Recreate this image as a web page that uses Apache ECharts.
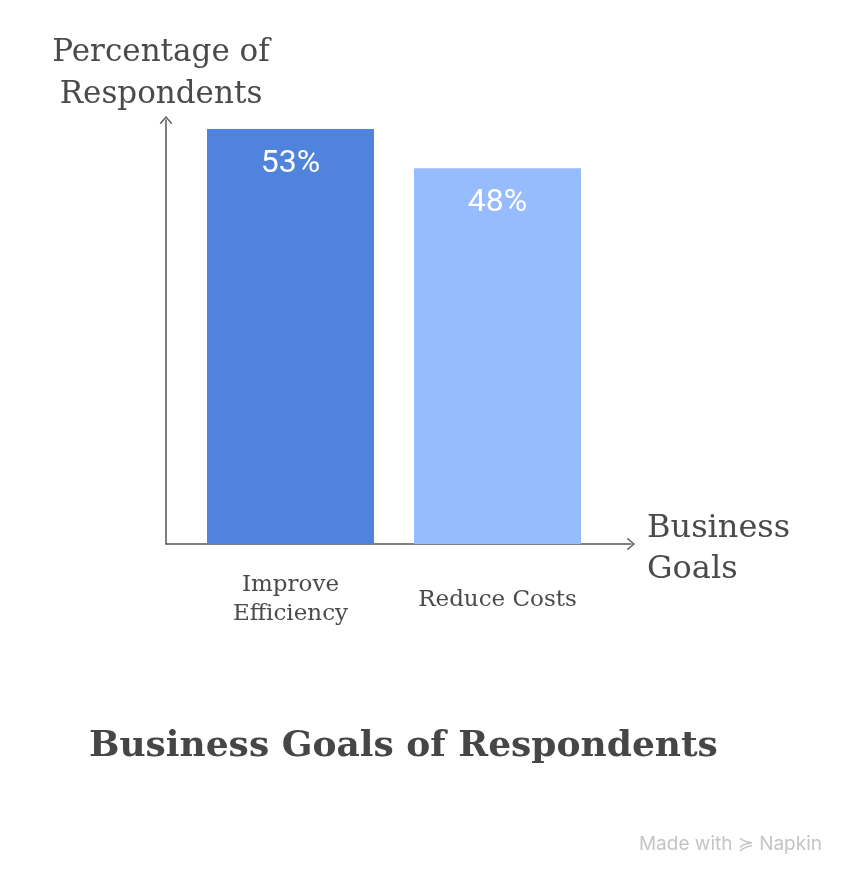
<!DOCTYPE html>
<html>
<head>
<meta charset="utf-8">
<script src="https://cdn.jsdelivr.net/npm/echarts@6/dist/echarts.min.js"></script>
<style>
html,body{margin:0;padding:0;background:#fff;}
#chart{width:850px;height:873px;}
</style>
</head>
<body>
<div id="chart"></div>
<script>
const categories = ['Improve\nEfficiency', 'Reduce Costs'];
const values = [53, 48];
const barColors = ['#5083DB', '#97BCFD'];
const valueLabels = ['53%', '48%'];
const yAxisName = 'Percentage of\nRespondents';
const xAxisNameLines = ['Business', 'Goals'];
const chartTitle = 'Business Goals of Respondents';

const serif = '"DejaVu Serif", serif';
const axisColor = '#555555';
const textColor = '#4a4a4a';
const chevron = 'path://M0,7 L6,0 L12,7 L10.8,7.6 L6,2 L1.2,7.6 Z';

const chart = echarts.init(document.getElementById('chart'), null, {renderer: 'canvas'});
chart.setOption({
  animation: false,
  backgroundColor: '#ffffff',
  title: [{
    text: chartTitle,
    left: 84,
    top: 724,
    textStyle: {fontFamily: serif, fontSize: 36, fontWeight: 'bold', color: '#464646'}
  }, {
    text: 'Made with ≽ Napkin',
    right: 23,
    top: 830,
    textStyle: {fontFamily: 'Inter, Roboto, sans-serif', fontSize: 19, fontWeight: 'normal', color: '#c4c4c4'}
  }],
  grid: [
    {left: 187, right: 249, top: 120, bottom: 329, containLabel: false},
    {left: 166, right: 219, top: 120, bottom: 329, containLabel: false}
  ],
  xAxis: [{
    type: 'category',
    gridIndex: 0,
    data: categories,
    axisLine: {show: false},
    axisTick: {show: false},
    axisLabel: {
      margin: 56,
      verticalAlign: 'middle',
      fontFamily: serif,
      fontSize: 23,
      lineHeight: 29,
      color: textColor
    }
  }, {
    type: 'value',
    gridIndex: 1,
    min: 0, max: 1,
    axisLine: {show: true, lineStyle: {color: axisColor, width: 1.5}, symbol: ['none', chevron], symbolSize: [14, 8]},
    axisTick: {show: false},
    axisLabel: {show: false},
    splitLine: {show: false},
    name: '{s| }\n' + xAxisNameLines.map(t => '{n|' + t + '}').join('\n'),
    nameLocation: 'end',
    nameGap: 16,
    nameTextStyle: {
      align: 'left', verticalAlign: 'middle', color: textColor,
      rich: {
        s: {fontSize: 1, lineHeight: 11},
        n: {fontFamily: serif, fontSize: 32, lineHeight: 41, color: textColor}
      }
    }
  }],
  yAxis: [{
    type: 'value',
    gridIndex: 0,
    min: 0,
    max: 54.15,
    show: false
  }, {
    type: 'value',
    gridIndex: 1,
    min: 0, max: 1,
    axisLine: {show: true, lineStyle: {color: axisColor, width: 1.5}, symbol: ['none', chevron], symbolSize: [14, 8]},
    axisTick: {show: false},
    axisLabel: {show: false},
    splitLine: {show: false},
    name: yAxisName,
    nameLocation: 'end',
    nameGap: 4,
    nameTextStyle: {fontFamily: serif, fontSize: 31, lineHeight: 42, color: textColor, align: 'center', verticalAlign: 'bottom', padding: [0, 10, 0, 0]}
  }],
  series: [{
    type: 'bar',
    xAxisIndex: 0,
    yAxisIndex: 0,
    barWidth: 167,
    data: values.map((v, i) => ({value: v, itemStyle: {color: barColors[i]}})),
    label: {
      show: true,
      position: 'insideTop',
      distance: 19,
      formatter: p => valueLabels[p.dataIndex],
      fontFamily: 'Roboto, sans-serif',
      fontSize: 32,
      color: '#ffffff'
    }
  }]
});
</script>
</body>
</html>
